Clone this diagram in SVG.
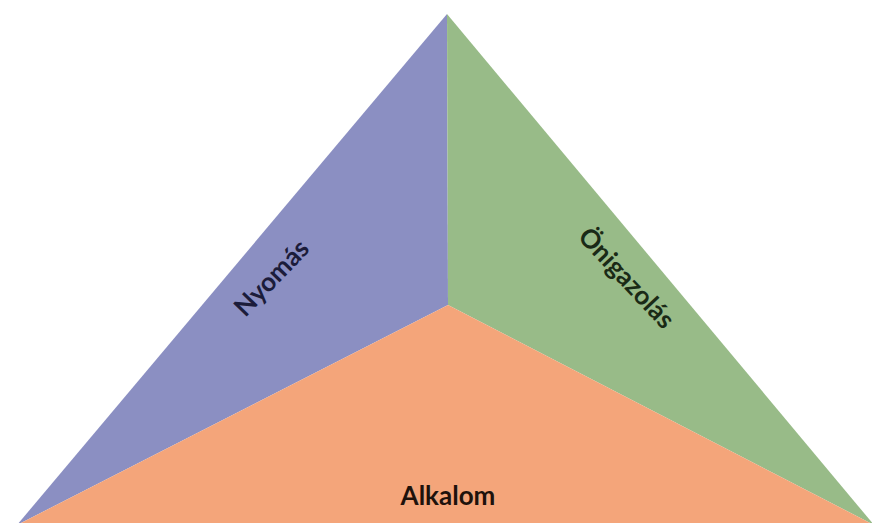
<svg xmlns="http://www.w3.org/2000/svg" width="872" height="523" viewBox="0 0 872 523">
  <style>
    .lbl { font-family: Lato, "Open Sans", "Liberation Sans", sans-serif; font-weight: bold; font-size: 26px; text-anchor: middle; }
  </style>
  <rect width="872" height="523" fill="#ffffff"/>
  <!-- three facets of the pyramid -->
  <g id="nyomas">
    <polygon points="447,14 448,305 17,525" fill="#8b8fc2"/>
    <text class="lbl" fill="#1c1c3a" transform="translate(278,284) rotate(-46)">Nyomás</text>
  </g>
  <g id="onigazolas">
    <polygon points="447,14 874,525 448,305" fill="#98bb88"/>
    <text class="lbl" fill="#1a2a16" transform="translate(620,284) rotate(47)">Önigazolás</text>
  </g>
  <g id="alkalom">
    <polygon points="448,305 874,525 17,525" fill="#f4a57a"/>
    <text class="lbl" fill="#1e120c" x="448" y="505">Alkalom</text>
  </g>
  <g id="connectors"/>
</svg>
